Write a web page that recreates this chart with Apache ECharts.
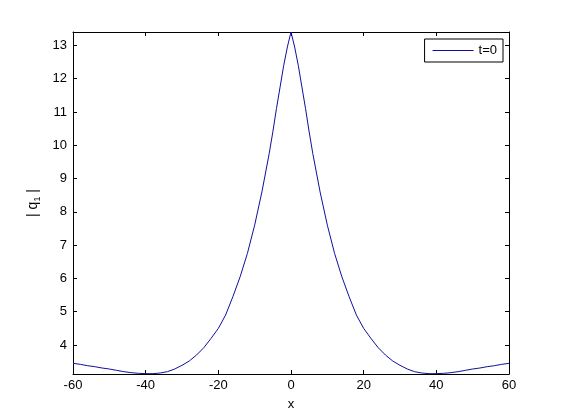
<!DOCTYPE html>
<html>
<head>
<meta charset="utf-8">
<script src="https://cdn.jsdelivr.net/npm/echarts@6/dist/echarts.min.js"></script>
<style>
html, body { margin: 0; padding: 0; background: #fff; }
#main { width: 561px; height: 420px; }
</style>
</head>
<body>
<div id="main"></div>
<script>
// values
var xs = [-60, -58, -56, -54, -52, -50, -48, -46, -44, -42, -40, -38, -36, -34, -32, -30,
  -28, -26, -24, -22, -20, -18, -16, -14, -12, -10, -8, -6, -5, -4, -3, -2, -1, 0,
  1, 2, 3, 4, 5, 6, 8, 10, 12, 14, 16, 18, 20, 22, 24, 26, 28, 30,
  32, 34, 36, 38, 40, 42, 44, 46, 48, 50, 52, 54, 56, 58, 60]
var q1 = [3.45, 3.42, 3.38, 3.35, 3.31, 3.28, 3.24, 3.2, 3.17, 3.15, 3.14, 3.14, 3.16, 3.2, 3.28, 3.39,
  3.52, 3.7, 3.92, 4.2, 4.5, 4.9, 5.45, 6.05, 6.75, 7.6, 8.6, 9.75, 10.4, 11.1, 11.75, 12.4, 12.95, 13.4,
  12.95, 12.4, 11.75, 11.1, 10.4, 9.75, 8.6, 7.6, 6.75, 6.05, 5.45, 4.9, 4.5, 4.2, 3.92, 3.7, 3.52, 3.39,
  3.28, 3.2, 3.16, 3.14, 3.14, 3.15, 3.17, 3.2, 3.24, 3.28, 3.31, 3.35, 3.38, 3.42, 3.45]
var xTicks = [-60, -40, -20, 0, 20, 40, 60]
var yTicks = [4, 5, 6, 7, 8, 9, 10, 11, 12, 13]

var pts = []
for (var i = 0; i < xs.length; i++) {
  pts.push([xs[i], q1[i]])
}

var font = "'Liberation Sans', Arial, sans-serif"

function xAxisOf(pos, labels) {
  return {
    type: 'value', position: pos, min: -60, max: 60,
    axisLine: { show: true, onZero: false, lineStyle: { color: '#000', width: 1 } },
    axisTick: { show: true, inside: true, length: 4, customValues: xTicks, lineStyle: { color: '#000' } },
    axisLabel: { show: labels, color: '#000', fontSize: 13, fontFamily: font, margin: 5, customValues: xTicks },
    splitLine: { show: false }
  }
}

function yAxisOf(pos, labels) {
  return {
    type: 'value', position: pos, min: 3.13, max: 13.4,
    axisLine: { show: true, onZero: false, lineStyle: { color: '#000', width: 1 } },
    axisTick: { show: true, inside: true, length: 4, customValues: yTicks, lineStyle: { color: '#000' } },
    axisLabel: { show: labels, color: '#000', fontSize: 13, fontFamily: font, margin: 6, customValues: yTicks },
    splitLine: { show: false }
  }
}

var myChart = echarts.init(document.getElementById('main'))

var xb = xAxisOf('bottom', true)
xb.name = 'x'
xb.nameLocation = 'middle'
xb.nameGap = 24
xb.nameTextStyle = { color: '#000', fontSize: 13, fontFamily: font }
var xt = xAxisOf('top', false)

// |q1| with a subscript
var yl = yAxisOf('left', true)
yl.name = '{a|| q}{s|1}{a| |}'
yl.nameLocation = 'middle'
yl.nameGap = 27
yl.nameTextStyle = {
  color: '#000', fontFamily: font,
  rich: {
    a: { fontSize: 14, fontFamily: font, color: '#000', lineHeight: 16 },
    s: { fontSize: 9, fontFamily: font, color: '#000', lineHeight: 16, padding: [8, 0, 0, 0] }
  }
}
var yr = yAxisOf('right', false)

myChart.setOption({
  animation: false,
  backgroundColor: '#fff',
  grid: { left: 73, top: 32, width: 436, height: 342 },
  legend: {
    right: 58, top: 39,
    data: ['t=0'],
    icon: 'rect',
    itemWidth: 41, itemHeight: 1,
    padding: [5, 6, 5, 8],
    borderColor: '#000', borderWidth: 1,
    backgroundColor: '#fff',
    textStyle: { color: '#000', fontSize: 13, fontFamily: font }
  },
  xAxis: [xb, xt],
  yAxis: [yl, yr],
  series: [
    {
      name: 't=0',
      type: 'line',
      data: pts,
      symbol: 'none',
      smooth: false,
      lineStyle: { color: '#10109c', width: 1 },
      itemStyle: { color: '#10109c' }
    }
  ]
})
</script>
</body>
</html>
